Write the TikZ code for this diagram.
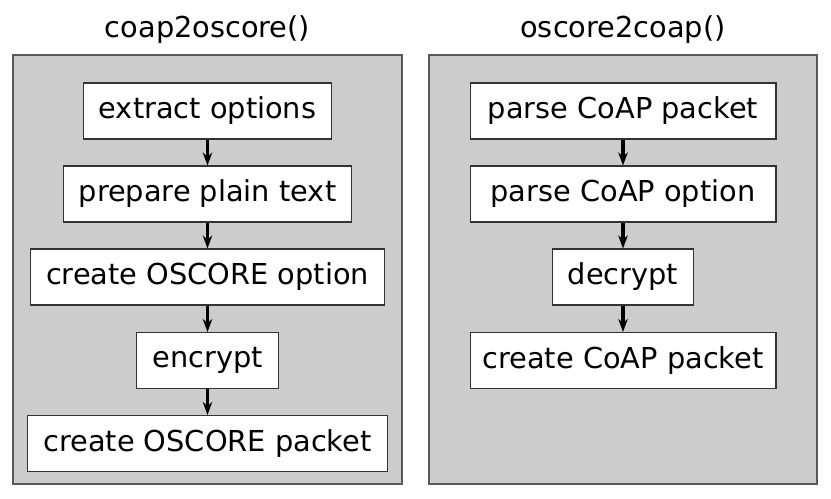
\documentclass[tikz,border=0pt]{standalone}
\usepackage{fontspec}
\setmainfont{DejaVu Sans}
\usetikzlibrary{arrows.meta,positioning}

\begin{document}
\begin{tikzpicture}[x=0.02cm, y=-0.02cm,
    sblock/.style={rectangle, draw=black!80, line width=0.6pt, fill=white, minimum height=1.12cm, inner xsep=0.31cm, font=\fontsize{16.4}{19}\selectfont},
    wblock/.style={sblock, minimum width=6.12cm, inner xsep=0.2cm},
    panel/.style={draw=black!65, line width=0.9pt, fill=black!20},
    ptitle/.style={font=\fontsize{16.4}{19}\selectfont},
    farrow/.style={-{Stealth[length=2.6mm, width=1.9mm]}, line width=2.2pt, black}
  ]
    \useasboundingbox (0,0) rectangle (831,499);

    % coap2oscore()
    \node[ptitle] (tenc) at (207.5, 30) {coap2oscore()};
    \draw[panel] (13, 55) rectangle (402, 484);

    \node[sblock] (e1) at (207.5, 111) {extract options};
    \node[sblock] (e2) at (207.5, 194) {prepare plain text};
    \node[sblock] (e3) at (207.5, 277) {create OSCORE option};
    \node[sblock] (e4) at (207.5, 360.5) {encrypt};
    \node[sblock] (e5) at (207.5, 443.5) {create OSCORE packet};

    \draw[farrow] (e1) -- (e2);
    \draw[farrow] (e2) -- (e3);
    \draw[farrow] (e3) -- (e4);
    \draw[farrow] (e4) -- (e5);

    % oscore2coap()
    \node[ptitle] (tdec) at (623, 30) {oscore2coap()};
    \draw[panel] (429, 55) rectangle (817, 484);

    \node[wblock] (d1) at (623, 111) {parse CoAP packet};
    \node[wblock] (d2) at (623, 194) {parse CoAP option};
    \node[sblock] (d3) at (623, 277) {decrypt};
    \node[wblock] (d4) at (623, 360.5) {create CoAP packet};

    \draw[farrow] (d1) -- (d2);
    \draw[farrow] (d2) -- (d3);
    \draw[farrow] (d3) -- (d4);
\end{tikzpicture}
\end{document}
